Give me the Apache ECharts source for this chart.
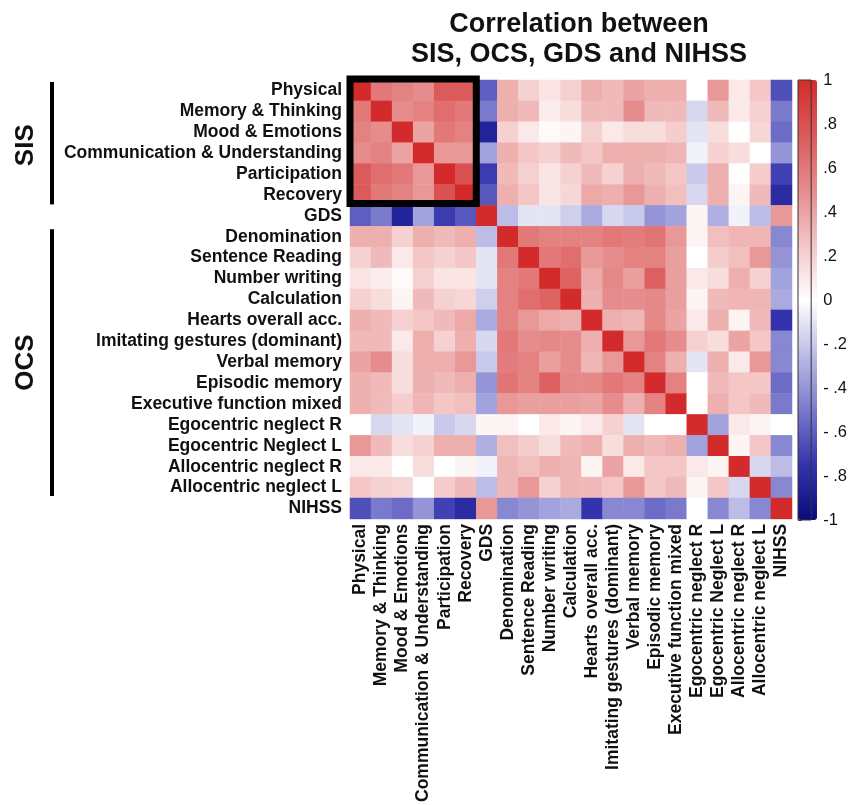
<!DOCTYPE html>
<html><head><meta charset="utf-8">
<script src="https://cdn.jsdelivr.net/npm/echarts@6/dist/echarts.min.js"></script>
<style>html,body{margin:0;padding:0;background:#fff}#c{width:850px;height:805px}</style>
</head><body><div id="c"></div>
<script>
const titleText = 'Correlation between\nSIS, OCS, GDS and NIHSS';
const variables = ['Physical','Memory & Thinking','Mood & Emotions','Communication & Understanding','Participation','Recovery','GDS','Denomination','Sentence Reading','Number writing','Calculation','Hearts overall acc.','Imitating gestures (dominant)','Verbal memory','Episodic memory','Executive function mixed','Egocentric neglect R','Egocentric Neglect L','Allocentric neglect R','Allocentric neglect L','NIHSS'];
const sisGroup = ['Physical','Recovery'];
const ocsGroup = ['Denomination','Allocentric neglect L'];
const colorbarTicks = [1, 0.8, 0.6, 0.4, 0.2, 0, -0.2, -0.4, -0.6, -0.8, -1];
const colorbarLabels = ['1', '.8', '.6', '.4', '.2', '0', '- .2', '- .4', '- .6', '- .8', '-1'];

const rowPhysical     = [1, .6, .55, .5, .75, .75, -.6, .35, .2, .12, .2, .35, .3, .4, .35, .35, 0, .45, .1, .25, -.65];
const rowMemory       = [.6, 1, .5, .55, .65, .6, -.5, .35, .3, .08, .15, .3, .3, .5, .3, .3, -.15, .3, .1, .2, -.5];
const rowMood         = [.55, .5, 1, .4, .6, .55, -.85, .2, .1, .02, .05, .2, .1, .15, .15, .22, -.1, .15, 0, .18, -.55];
const rowCommunication= [.5, .55, .4, 1, .45, .45, -.35, .35, .25, .2, .3, .25, .35, .35, .35, .32, -.05, .2, .15, 0, -.4];
const rowParticipation= [.75, .65, .6, .45, 1, .8, -.72, .3, .2, .12, .2, .3, .2, .35, .3, .25, -.2, .35, 0, .22, -.7];
const rowRecovery     = [.75, .6, .55, .45, .8, 1, -.62, .35, .25, .12, .18, .38, .35, .45, .35, .28, -.15, .35, .05, .3, -.8];
const rowGDS          = [-.6, -.5, -.85, -.35, -.72, -.62, 1, -.25, -.1, -.1, -.18, -.32, -.15, -.2, -.4, -.35, .05, -.3, -.05, -.25, .45];
const rowDenomination = [.35, .35, .2, .35, .3, .35, -.25, 1, .6, .55, .55, .55, .6, .58, .62, .45, .05, .28, .32, .32, -.45];
const rowSentence     = [.2, .3, .1, .25, .2, .25, -.1, .6, 1, .6, .65, .45, .5, .55, .55, .42, 0, .22, .28, .45, -.4];
const rowNumber       = [.12, .08, .02, .2, .12, .12, -.1, .55, .6, 1, .7, .38, .52, .42, .72, .42, .1, .15, .35, .2, -.35];
const rowCalculation  = [.2, .15, .05, .3, .2, .18, -.18, .55, .65, .7, 1, .35, .5, .5, .52, .42, .05, .3, .32, .32, -.32];
const rowHearts       = [.35, .3, .2, .25, .3, .38, -.32, .55, .45, .38, .35, 1, .35, .32, .52, .4, .1, .35, .05, .3, -.75];
const rowImitating    = [.3, .3, .1, .35, .2, .35, -.15, .6, .5, .52, .5, .35, 1, .45, .6, .5, .2, .15, .4, .25, -.45];
const rowVerbal       = [.4, .5, .15, .35, .35, .45, -.2, .58, .55, .42, .5, .32, .45, 1, .55, .35, -.1, .35, .1, .45, -.45];
const rowEpisodic     = [.35, .3, .15, .35, .3, .35, -.4, .62, .55, .72, .52, .52, .6, .55, 1, .55, 0, .3, .25, .25, -.55];
const rowExecutive    = [.35, .3, .22, .32, .25, .28, -.35, .45, .42, .42, .42, .4, .5, .35, .55, 1, 0, .35, .25, .3, -.5];
const rowEgoR         = [0, -.15, -.1, -.05, -.2, -.15, .05, .05, 0, .1, .05, .1, .2, -.1, 0, 0, 1, -.35, .1, .05, 0];
const rowEgoL         = [.45, .3, .15, .2, .35, .35, -.3, .28, .22, .15, .3, .35, .15, .35, .3, .35, -.35, 1, .05, .25, -.45];
const rowAlloR        = [.1, .1, 0, .15, 0, .05, -.05, .32, .28, .35, .32, .05, .4, .1, .25, .25, .1, .05, 1, -.15, -.25];
const rowAlloL        = [.25, .2, .18, 0, .22, .3, -.25, .32, .45, .2, .32, .3, .25, .45, .25, .3, .05, .25, -.15, 1, -.45];
const rowNIHSS        = [-.65, -.5, -.55, -.4, -.7, -.8, .45, -.45, -.4, -.35, -.32, -.75, -.45, -.45, -.55, -.5, 0, -.45, -.25, -.45, 1];

const matrix = [rowPhysical, rowMemory, rowMood, rowCommunication, rowParticipation, rowRecovery, rowGDS,
  rowDenomination, rowSentence, rowNumber, rowCalculation, rowHearts, rowImitating, rowVerbal, rowEpisodic,
  rowExecutive, rowEgoR, rowEgoL, rowAlloR, rowAlloL, rowNIHSS];

const data = [];
matrix.forEach((row, i) => row.forEach((v, j) => data.push([j, i, v])));

const FONT = '"Liberation Sans", Arial, Helvetica, sans-serif';
const chart = echarts.init(document.getElementById('c'), null, {renderer: 'canvas'});

chart.setOption({
  animation: false,
  backgroundColor: '#fff',
  grid: [
    {left: 350, top: 80, width: 442, height: 442},
    {left: 798, top: 80, width: 19, height: 440, show: true, borderColor: '#333', borderWidth: 1, backgroundColor: 'transparent', z: 10}
  ],
  xAxis: [
    {type: 'category', data: variables, gridIndex: 0, position: 'bottom',
     axisLine: {show: false}, axisTick: {show: false}, splitLine: {show: false},
     axisLabel: {interval: 0, rotate: 90, margin: 5, fontSize: 17.5, fontWeight: 'bold', color: '#111', fontFamily: FONT}},
    {type: 'value', gridIndex: 1, show: false, min: 0, max: 1}
  ],
  yAxis: [
    {type: 'category', data: variables, gridIndex: 0, inverse: true,
     axisLine: {show: false}, axisTick: {show: false}, splitLine: {show: false},
     axisLabel: {interval: 0, margin: 8, fontSize: 17.5, fontWeight: 'bold', color: '#111', fontFamily: FONT}},
    {type: 'value', gridIndex: 1, min: -1, max: 1, interval: 0.2, position: 'right',
     axisLine: {show: false}, splitLine: {show: false},
     axisTick: {show: true, length: 4, inside: false, lineStyle: {color: '#555'}},
     axisLabel: {margin: 12, fontSize: 16.5, color: '#111', fontFamily: FONT,
       formatter: v => { const r = Math.round(v * 10) / 10; const k = colorbarTicks.findIndex(t => Math.abs(t - r) < 1e-6); return k >= 0 ? colorbarLabels[k] : ''; }}}
  ],
  visualMap: {
    type: 'continuous', min: -1, max: 1, show: true, calculable: false, hoverLink: false,
    left: 798, top: 80, itemWidth: 19, itemHeight: 440, padding: 0, text: null, showLabel: false,
    seriesIndex: 0,
    inRange: {color: ['#0a0a7e', '#3333ad', '#7a7acd', '#bcbce6', '#ffffff', '#f4c6c6', '#e68c8c', '#dc5a5a', '#d32b2b']}
  },
  series: [{
    type: 'heatmap', xAxisIndex: 0, yAxisIndex: 0, data: data,
    itemStyle: {borderWidth: 0},
    emphasis: {disabled: true}
  }]
});

// annotations positioned through the axes' own scales
const cell = (i) => chart.convertToPixel({xAxisIndex: 0, yAxisIndex: 0}, [i, i]);
const p0 = cell(0), p1 = cell(1);
const cw = p1[0] - p0[0], ch = p1[1] - p0[1];
const rowTop = (name) => chart.convertToPixel({yAxisIndex: 0}, name) - ch / 2;
const rowBot = (name) => chart.convertToPixel({yAxisIndex: 0}, name) + ch / 2;
const colLeft = (name) => chart.convertToPixel({xAxisIndex: 0}, name) - cw / 2;
const colRight = (name) => chart.convertToPixel({xAxisIndex: 0}, name) + cw / 2;

const sisTop = rowTop(sisGroup[0]) + 2, sisBot = rowBot(sisGroup[1]) - 1;
const ocsTop = rowTop(ocsGroup[0]) + 3, ocsBot = rowBot(ocsGroup[1]) - 2;
const bx0 = colLeft(sisGroup[0]), bx1 = colRight(sisGroup[1]);
const by0 = rowTop(sisGroup[0]) - 1, by1 = rowBot(sisGroup[1]) - 2;

chart.setOption({
  graphic: [
    {type: 'text', x: 579, y: 10, z: 100,
     style: {text: titleText, textAlign: 'center', textVerticalAlign: 'top', font: 'bold 27px ' + FONT, lineHeight: 30, fill: '#111'}},
    {type: 'rect', z: 100, shape: {x: bx0, y: by0, width: bx1 - bx0, height: by1 - by0},
     style: {fill: 'none', stroke: '#000', lineWidth: 7}},
    {type: 'line', z: 100, shape: {x1: 52, y1: sisTop, x2: 52, y2: sisBot}, style: {stroke: '#000', lineWidth: 4}},
    {type: 'line', z: 100, shape: {x1: 52, y1: ocsTop, x2: 52, y2: ocsBot}, style: {stroke: '#000', lineWidth: 4}},
    {type: 'text', x: 26, y: (sisTop + sisBot) / 2 + 2, rotation: Math.PI / 2, z: 100,
     style: {text: 'SIS', textAlign: 'center', textVerticalAlign: 'middle', font: 'bold 26px ' + FONT, fill: '#111'}},
    {type: 'text', x: 26, y: (ocsTop + ocsBot) / 2, rotation: Math.PI / 2, z: 100,
     style: {text: 'OCS', textAlign: 'center', textVerticalAlign: 'middle', font: 'bold 26px ' + FONT, fill: '#111'}}
  ]
});
</script>
</body></html>
